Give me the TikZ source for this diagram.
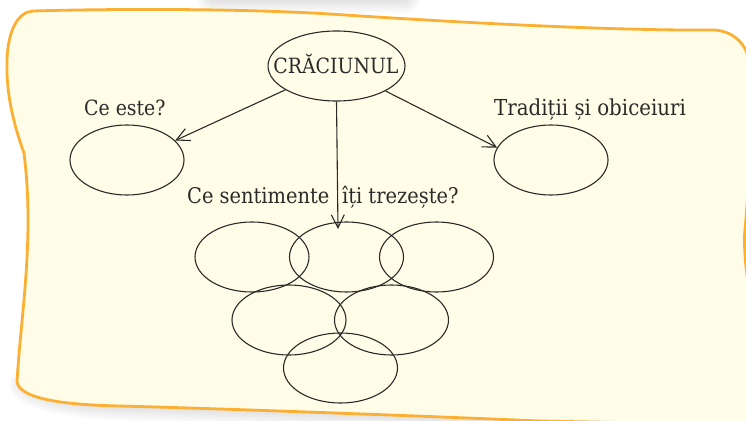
\documentclass[tikz,border=0pt]{standalone}
\usepackage{fontspec}
\setmainfont{DejaVu Serif Condensed}
\usetikzlibrary{shapes.geometric,arrows.meta}
\definecolor{ink}{HTML}{2B2A29}
\definecolor{paper}{HTML}{FFFDE7}
\definecolor{edgeor}{HTML}{FBB034}
\tikzset{
  x=1pt,y=-1pt,
  oval/.style={ellipse,draw=ink,line width=1.1pt,inner sep=0pt,minimum width=114pt,minimum height=70pt},
  lbl/.style={anchor=base west,inner sep=0pt,text=ink,font=\fontsize{22}{26}\selectfont},
  link/.style={draw=ink,line width=1.1pt,-{Straight Barb[length=13pt,width=13pt,line width=1.1pt]}},
  shade1/.style={draw=black,opacity=0.013,line cap=round,line join=round}
}
\def\sheet{(33,11) .. controls (100,9) and (230,8) .. (330,14)
  .. controls (420,20) and (600,31) .. (715,30)
  .. controls (730,31) and (742,40) .. (747,53)
  .. controls (752,100) and (750,180) .. (744.5,235)
  .. controls (744,260) and (748,280) .. (750,300)
  -- (750,425) -- (540,421)
  .. controls (400,415) and (200,408) .. (120,406)
  .. controls (70,405) and (20,400) .. (17,382)
  .. controls (20,330) and (28,280) .. (28,220)
  .. controls (28,190) and (26,170) .. (24,153)
  .. controls (12,120) and (6,90) .. (7,60)
  .. controls (8,30) and (18,12) .. (33,11) -- cycle}
\begin{document}
\begin{tikzpicture}
\useasboundingbox (0,0) rectangle (746,420);
\clip (0,0) rectangle (746,420);
\fill[white] (0,0) rectangle (746,420);
% soft shadows
\foreach \w in {3,6,9,12,15,18,21,24,27,30}{
  \draw[shade1,line width=\w pt] (24,385) .. controls (40,402) and (100,405) .. (120,406)
     .. controls (200,408) and (400,415) .. (560,421);
  \draw[shade1,line width=\w pt] (212,-1) -- (405,-1);
}
% sheet
\path[fill=paper,draw=edgeor,line width=2.8pt,line join=round] \sheet;
% ovals
\node[oval,minimum width=137pt] (root) at (336.5,66) {};
\node[oval] (what) at (127,160) {};
\node[oval] (trad) at (551,160) {};
\node[oval] (f1) at (252,257) {};
\node[oval] (f2) at (346.5,257) {};
\node[oval] (f3) at (436.5,257) {};
\node[oval] (f4) at (289,320) {};
\node[oval] (f5) at (391.5,320) {};
\node[oval] (f6) at (340.5,368) {};
\coordinate (feel) at (338,229);
% labels
\node[anchor=base,inner sep=0pt,text=ink,font=\fontsize{21}{24}\selectfont] (rootlabel) at (336,73) {CRĂCIUNUL};
\node[lbl,font=\fontsize{21}{26}\selectfont] (whatlabel) at (84,115) {Ce este?};
\node[lbl] (tradlabel) at (494,115) {Tradiții și obiceiuri};
\node[lbl,font=\fontsize{21.6}{26}\selectfont] (feellabel) at (187,203.5) {Ce sentimente\hspace{0.3em} îți trezește?};
% connectors
\draw[link] (root.205) -- (what.22);
\draw[link] (root.south) -- (feel);
\draw[link] (root.-27) -- (trad.167);
\end{tikzpicture}
\end{document}
